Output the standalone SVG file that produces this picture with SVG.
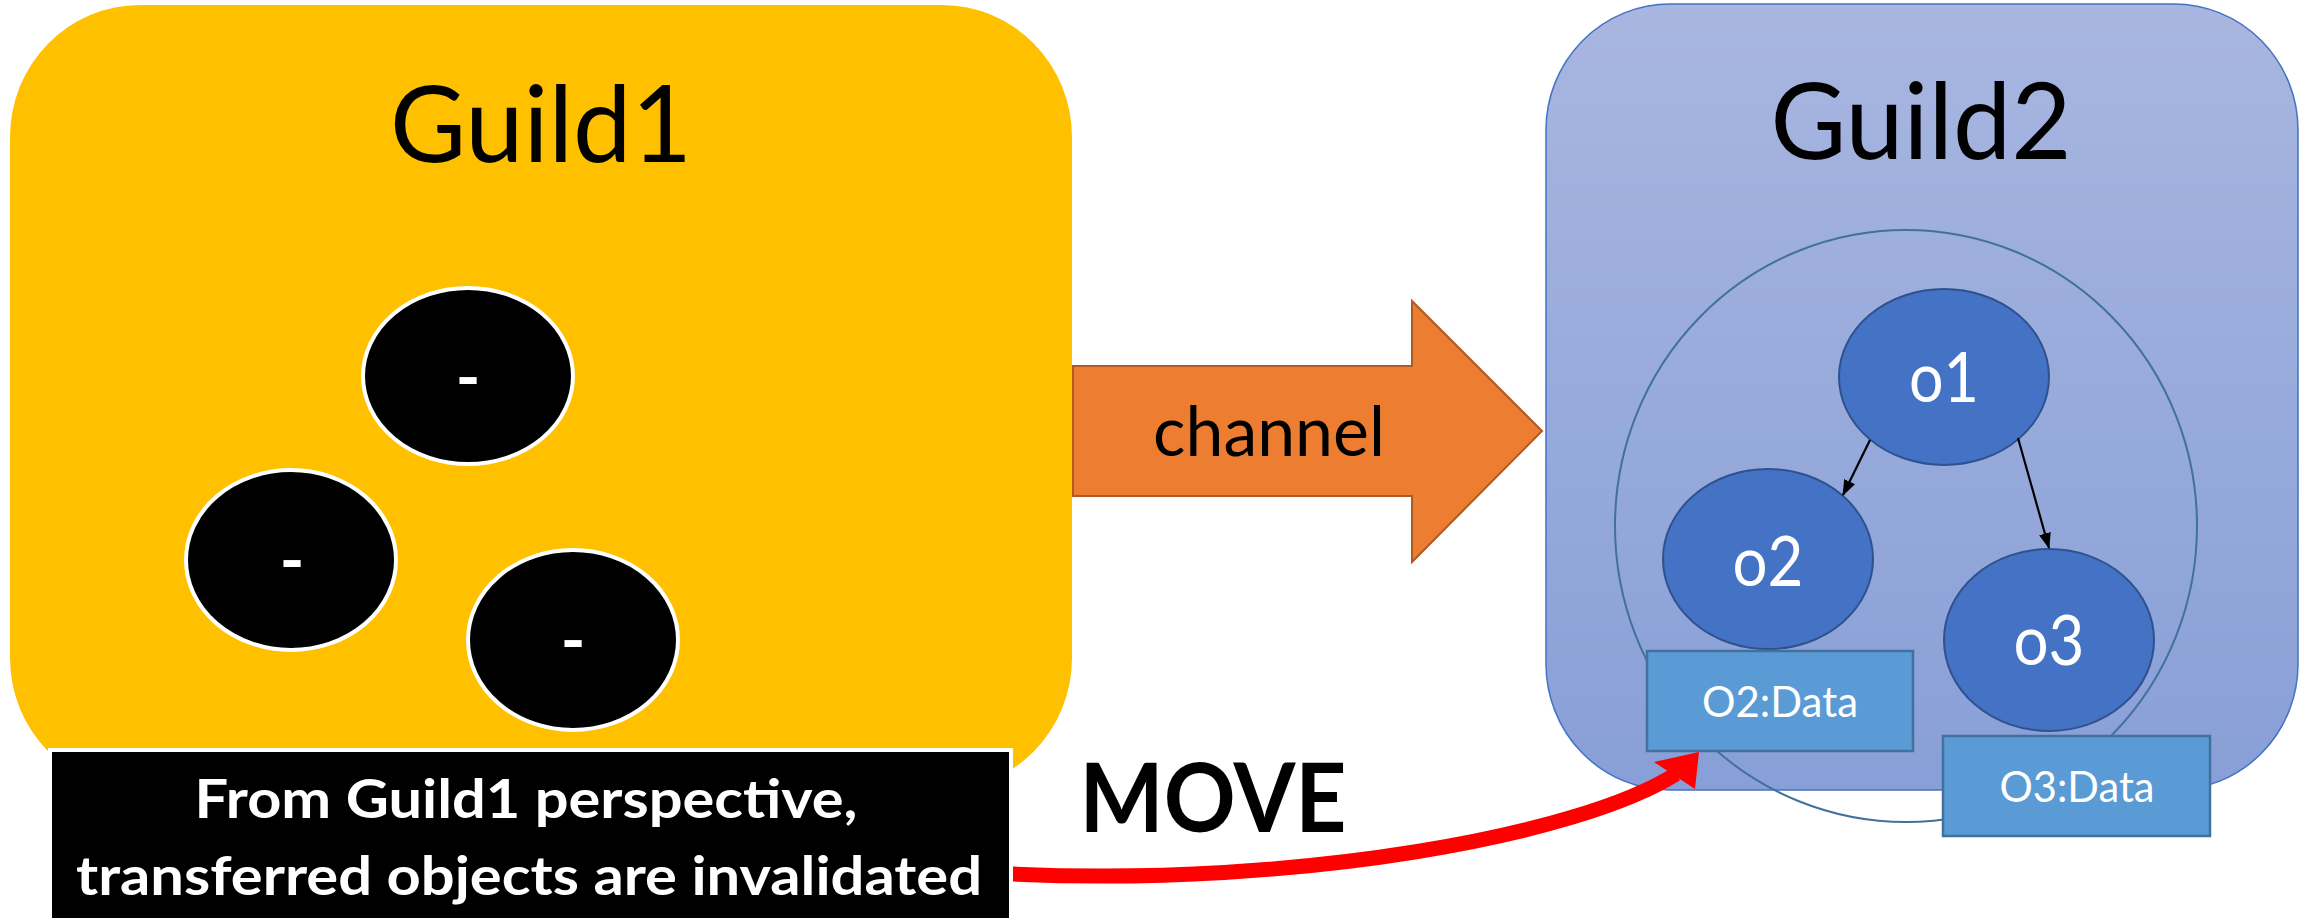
<svg xmlns="http://www.w3.org/2000/svg" width="2308" height="918" viewBox="0 0 2308 918">
<defs>
<linearGradient id="g2" x1="0" y1="0" x2="0" y2="1">
<stop offset="0" stop-color="#A8B6E0"/>
<stop offset="1" stop-color="#889FD7"/>
</linearGradient>
<marker id="ah" viewBox="0 0 16 12" markerWidth="16" markerHeight="12" refX="15" refY="6" orient="auto" markerUnits="userSpaceOnUse">
<path d="M0,0 L16,6 L0,12 z" fill="#000"/>
</marker>
</defs>
<style>
.t{font-family:Lato,"Liberation Sans",sans-serif;text-anchor:middle}
.title{font-size:106px;fill:#000}
.blk{fill:#000;stroke:#fff;stroke-width:4}
.dash{font-size:66px;font-weight:bold;fill:#fff}
.obj{fill:#4472C4;stroke:#2F528F;stroke-width:2}
.otx{font-size:69px;fill:#fff}
.data{fill:#5B9BD5;stroke:#41719C;stroke-width:2.5}
.dtx{font-size:42px;fill:#fff}
.edge{stroke:#000;stroke-width:2.2;fill:none;marker-end:url(#ah)}
.wb{font-size:53px;font-weight:bold;fill:#fff}
</style>
<rect width="2308" height="918" fill="#fff"/>

<g id="guild1">
<rect x="10" y="5" width="1062" height="785" rx="130" ry="132" fill="#FFC000"/>
<text class="t title" x="541" y="162" textLength="302" lengthAdjust="spacingAndGlyphs">Guild1</text>
</g>
<g id="g1-obj1">
<ellipse class="blk" cx="468" cy="376" rx="105" ry="88"/>
<text class="t dash" x="468" y="401">-</text>
</g>
<g id="g1-obj2">
<ellipse class="blk" cx="291" cy="560" rx="105" ry="90"/>
<text class="t dash" x="292" y="584">-</text>
</g>
<g id="g1-obj3">
<ellipse class="blk" cx="573" cy="640" rx="105" ry="90"/>
<text class="t dash" x="573" y="664">-</text>
</g>

<g id="guild2">
<rect x="1546" y="4" width="752" height="786" rx="124" ry="126" fill="url(#g2)" stroke="#4472C4" stroke-width="1.5"/>
<text class="t title" x="1921" y="159" textLength="301" lengthAdjust="spacingAndGlyphs">Guild2</text>
</g>
<g id="container">
<ellipse cx="1906" cy="526" rx="291" ry="296" fill="none" stroke="#41719C" stroke-width="2"/>
</g>
<g id="o1">
<ellipse class="obj" cx="1944" cy="377" rx="105" ry="88"/>
<text class="t otx" x="1944" y="402" textLength="70" lengthAdjust="spacingAndGlyphs">o1</text>
</g>
<g id="o2">
<ellipse class="obj" cx="1768" cy="559" rx="105" ry="90"/>
<text class="t otx" x="1768" y="586" textLength="71" lengthAdjust="spacingAndGlyphs">o2</text>
</g>
<g id="o3">
<ellipse class="obj" cx="2049" cy="640" rx="105" ry="91"/>
<text class="t otx" x="2049" y="665" textLength="71" lengthAdjust="spacingAndGlyphs">o3</text>
</g>
<g id="o2data">
<rect class="data" x="1647" y="651" width="266" height="100"/>
<text class="t dtx" x="1780" y="717" textLength="156" lengthAdjust="spacingAndGlyphs">O2:Data</text>
</g>
<g id="o3data">
<rect class="data" x="1943" y="736" width="267" height="100"/>
<text class="t dtx" x="2077" y="802" textLength="155" lengthAdjust="spacingAndGlyphs">O3:Data</text>
</g>

<g id="channel">
<polygon points="1073,366 1412,366 1412,301 1542,431 1412,562 1412,496 1073,496" fill="#ED7D31" stroke="#AE5A21" stroke-width="2"/>
<text class="t" x="1269" y="456" font-size="70" fill="#000" textLength="232" lengthAdjust="spacingAndGlyphs">channel</text>
</g>

<g id="connectors">
<line class="edge" x1="1870" y1="440" x2="1843" y2="495"/>
<line class="edge" x1="2018" y1="438" x2="2049" y2="548"/>
<path d="M652,752 Q700,860 1013,874 C1300,887 1580,835 1676,774" fill="none" stroke="#FF0000" stroke-width="15"/>
<polygon points="1699,752 1654,762 1695,789" fill="#FF0000"/>
</g>

<g id="note">
<rect x="50" y="750" width="961" height="180" fill="#000" stroke="#fff" stroke-width="4"/>
<text class="t wb" x="526" y="818" textLength="663" lengthAdjust="spacingAndGlyphs">From Guild1 perspective,</text>
<text class="t wb" x="529" y="895" textLength="906" lengthAdjust="spacingAndGlyphs">transferred objects are invalidated</text>
</g>
<g id="move-label">
<text class="t" x="1213" y="832" font-size="95" font-weight="bold" fill="#000" textLength="267" lengthAdjust="spacingAndGlyphs">MOVE</text>
</g>
</svg>
